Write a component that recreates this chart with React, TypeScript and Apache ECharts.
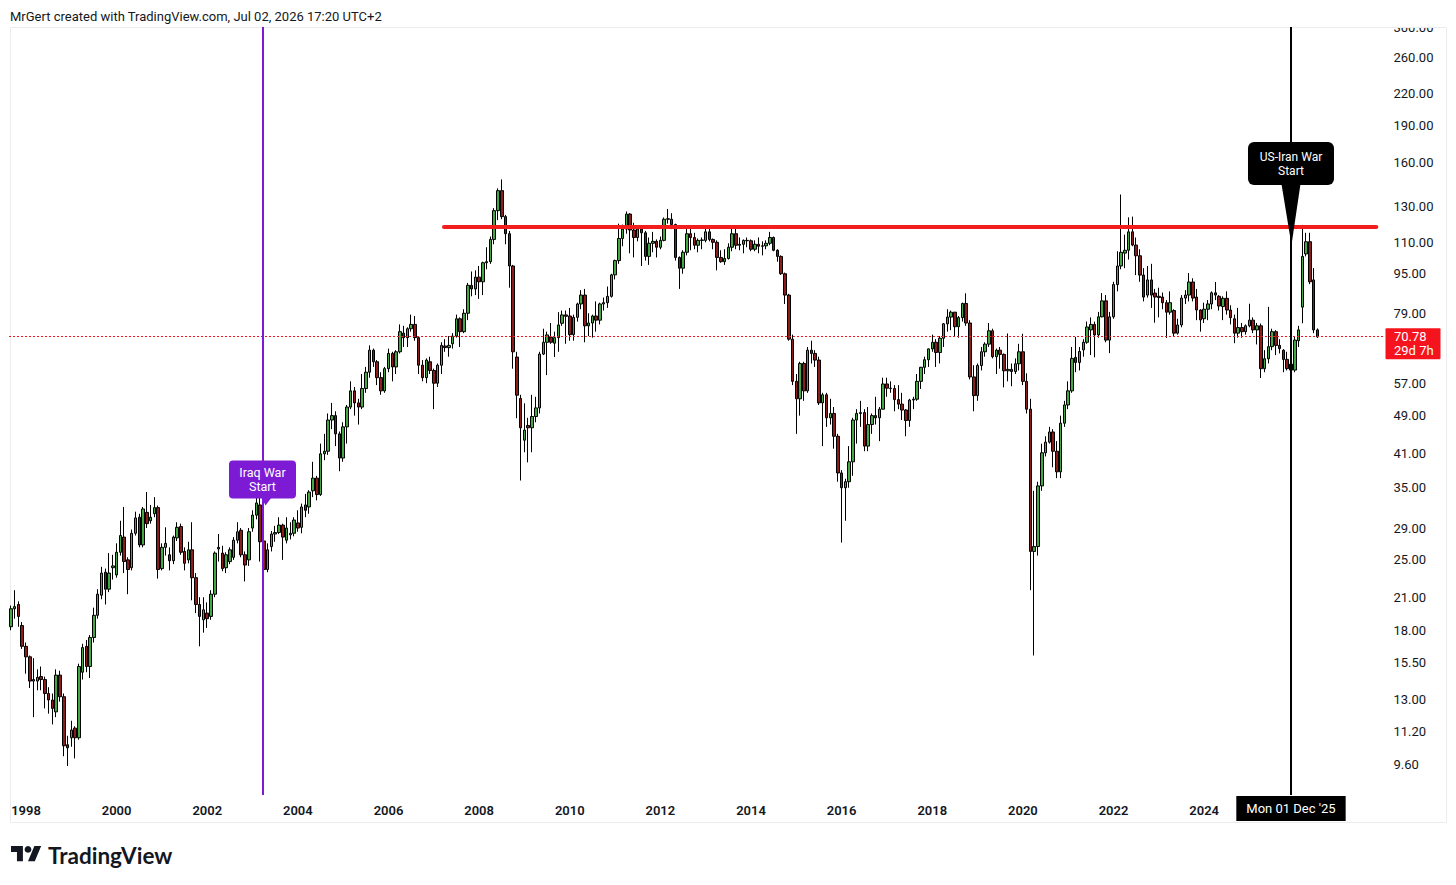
import React, { useEffect, useRef } from "react";
import * as echarts from "echarts";

// ---------- data ----------
const FIRST_YEAR = 1997;
const FIRST_MONTH = 9; // September 1997 is the first slot
const SLOT_COUNT = 364; // monthly slots on the time scale (incl. empty future space)

const priceTicks = [9.6, 11.2, 13, 15.5, 18, 21, 25, 29, 35, 41, 49, 57, 79, 95, 110, 130, 160, 190, 220, 260, 300];
const priceMin = 8.345;
const priceMax = 300.4;

const lastPrice = 70.78;
const lastPriceCountdown = "29d 7h";

const resistancePrice = 118.3;
const resistanceStartSlot = 114.7;
const resistanceEndSlot = 361.6;

const iraqWarSlot = 66.63; // 20 Mar 2003
const iranWarSlot = 339; // 01 Dec 2025
const iranWarLabel = "Mon 01 Dec '25";

const headerText = "MrGert created with TradingView.com, Jul 02, 2026 17:20 UTC+2";

// [open, close, low, high]
const ohlc1997 = [
  [18.3, 19.9, 18.0, 20.2], [19.9, 20.1, 19.0, 21.7], [20.3, 19.2, 18.3, 20.6], [18.4, 16.7, 16.5, 18.7],
];
const ohlc1998 = [
  [16.7, 15.9, 14.7, 17.0], [15.9, 14.2, 13.75, 16.0], [14.2, 14.3, 12.0, 15.8], [14.2, 14.45, 13.6, 15.0],
  [14.5, 14.3, 13.6, 15.2], [14.3, 13.4, 12.5, 14.5], [13.4, 13.0, 12.2, 13.8], [13.0, 12.5, 11.6, 13.4],
  [12.3, 14.6, 12.0, 15.0], [14.6, 13.2, 12.9, 14.9], [13.2, 10.5, 10.0, 13.4], [10.55, 10.4, 9.55, 11.0],
];
const ohlc1999 = [
  [10.9, 11.3, 10.45, 11.8], [11.4, 10.9, 9.9, 11.5], [10.9, 15.2, 10.8, 15.4], [14.8, 16.6, 14.3, 16.9],
  [16.7, 15.2, 14.8, 17.2], [15.2, 17.4, 14.4, 17.6], [17.4, 19.3, 17.0, 20.0], [19.3, 21.3, 19.0, 21.8],
  [21.2, 23.5, 20.8, 24.2], [23.6, 21.8, 20.3, 24.0], [21.8, 23.5, 21.5, 25.8], [24.1, 24.3, 22.8, 25.6],
];
const ohlc2000 = [
  [23.3, 25.9, 23.0, 27.0], [25.9, 28.0, 25.5, 30.0], [27.8, 24.8, 23.5, 32.0], [25.0, 23.9, 21.3, 25.3],
  [24.1, 28.3, 23.8, 28.8], [28.3, 30.4, 28.0, 31.3], [30.5, 26.8, 26.5, 31.0], [26.8, 31.7, 26.5, 32.0],
  [31.2, 29.6, 29.0, 34.3], [30.0, 30.5, 29.6, 32.3], [31.0, 31.9, 30.5, 33.5], [31.9, 23.9, 22.9, 32.2],
];
const ohlc2001 = [
  [24.0, 26.5, 23.8, 27.0], [26.5, 27.0, 25.5, 29.1], [25.6, 24.9, 23.8, 26.5], [24.9, 27.8, 24.5, 28.0],
  [27.7, 29.1, 27.3, 29.8], [29.2, 25.9, 25.6, 29.6], [26.0, 24.6, 23.8, 26.5], [25.0, 26.2, 24.6, 27.2],
  [26.2, 23.0, 20.7, 29.8], [23.0, 20.3, 19.5, 23.5], [20.3, 19.2, 16.7, 21.0], [18.9, 19.8, 17.8, 21.0],
];
const ohlc2002 = [
  [19.5, 19.0, 18.2, 20.5], [19.2, 21.3, 18.9, 21.7], [21.3, 25.8, 21.0, 26.0], [26.3, 26.5, 24.8, 28.2],
  [25.8, 24.0, 23.7, 26.7], [24.1, 25.6, 23.5, 25.9], [24.8, 26.2, 24.5, 26.5], [25.3, 27.4, 25.0, 27.8],
  [27.4, 28.5, 27.0, 29.8], [28.7, 25.6, 25.3, 29.0], [25.6, 24.4, 22.6, 26.0], [25.0, 28.5, 24.3, 29.0],
];
const ohlc2003 = [
  [29.0, 30.8, 28.5, 31.5], [30.8, 32.6, 30.2, 34.1], [32.3, 27.2, 24.8, 34.0], [27.3, 23.9, 23.3, 27.5],
  [23.9, 26.2, 23.6, 27.0], [26.6, 28.2, 26.0, 28.6], [28.2, 28.4, 27.2, 29.3], [28.4, 29.4, 28.2, 30.5],
  [29.4, 27.8, 25.0, 29.6], [27.4, 29.0, 27.0, 30.5], [28.1, 28.3, 27.5, 29.8], [28.3, 30.1, 27.9, 30.5],
];
const ohlc2004 = [
  [29.7, 29.0, 28.5, 31.5], [29.1, 32.0, 28.3, 32.5], [32.3, 31.5, 30.5, 34.0], [32.0, 34.3, 31.0, 34.6],
  [34.5, 36.6, 33.5, 39.5], [36.6, 33.9, 33.0, 37.0], [33.9, 41.0, 33.7, 43.0], [41.0, 41.5, 39.8, 45.0],
  [41.5, 48.0, 40.8, 49.5], [48.0, 49.0, 46.0, 52.0], [49.0, 45.0, 42.5, 50.0], [45.0, 40.2, 37.8, 45.5],
];
const ohlc2005 = [
  [40.2, 46.5, 39.5, 47.5], [46.5, 51.0, 43.0, 51.5], [51.0, 55.0, 50.5, 57.5], [55.0, 52.0, 49.0, 56.0],
  [52.0, 51.0, 47.0, 53.0], [51.0, 55.6, 50.5, 59.5], [55.6, 60.0, 54.5, 61.5], [60.0, 66.5, 58.5, 68.0],
  [66.5, 63.0, 61.5, 67.0], [63.0, 58.5, 56.5, 63.5], [58.5, 55.0, 54.0, 60.0], [55.0, 61.0, 54.5, 61.5],
];
const ohlc2006 = [
  [61.0, 65.5, 60.0, 67.0], [65.5, 61.5, 57.5, 66.0], [61.5, 66.0, 59.5, 66.5], [66.0, 72.5, 65.5, 75.0],
  [72.0, 70.5, 67.5, 74.5], [70.5, 73.5, 67.5, 74.0], [73.5, 75.0, 72.5, 78.5], [75.0, 70.5, 69.5, 78.0],
  [70.5, 62.0, 59.5, 71.0], [62.0, 58.5, 57.5, 63.5], [58.5, 63.5, 57.0, 64.0], [63.0, 60.5, 59.5, 64.5],
];
const ohlc2007 = [
  [60.5, 57.0, 50.5, 61.0], [57.0, 62.0, 56.0, 62.5], [62.0, 68.0, 59.5, 69.0], [67.8, 67.3, 66.0, 70.0],
  [67.3, 68.0, 64.5, 71.0], [68.5, 71.0, 67.0, 72.0], [71.0, 77.0, 70.5, 78.5], [77.0, 72.5, 67.5, 77.5],
  [72.5, 79.0, 72.0, 80.5], [79.0, 90.0, 76.5, 91.0], [90.0, 88.5, 85.5, 96.0], [88.5, 93.5, 86.0, 96.5],
];
const ohlc2008 = [
  [93.5, 91.5, 84.5, 98.5], [91.5, 100.0, 86.0, 100.5], [100.0, 100.5, 97.0, 107.5], [100.5, 111.5, 99.5, 113.0],
  [111.5, 127.5, 109.0, 129.0], [127.5, 140.0, 122.0, 141.5], [140.0, 124.0, 122.5, 147.5], [124.0, 114.5, 109.0, 125.0],
  [114.5, 98.5, 89.0, 116.0], [98.5, 66.0, 61.0, 99.0], [64.4, 53.9, 48.4, 66.0], [53.1, 46.3, 36.2, 54.0],
];
const ohlc2009 = [
  [43.7, 45.8, 41.3, 51.9], [46.8, 46.3, 39.4, 48.5], [46.3, 48.8, 41.3, 54.0], [48.8, 50.8, 47.5, 53.5],
  [50.8, 65.3, 49.5, 66.0], [65.3, 69.0, 65.0, 73.5], [69.0, 71.4, 59.2, 72.5], [70.7, 69.0, 68.5, 75.5],
  [68.7, 70.5, 64.4, 72.5], [70.5, 74.8, 66.0, 79.4], [75.4, 78.4, 74.5, 80.0], [78.4, 77.9, 68.5, 80.0],
];
const ohlc2010 = [
  [78.0, 71.5, 69.5, 81.0], [71.5, 77.5, 69.5, 78.5], [77.5, 82.5, 76.0, 83.0], [82.5, 86.0, 80.5, 88.0],
  [86.0, 74.5, 69.0, 88.5], [74.5, 75.5, 71.0, 79.0], [75.5, 78.0, 70.5, 78.5], [78.0, 76.5, 72.5, 83.5],
  [76.5, 82.5, 75.0, 83.0], [82.5, 83.0, 80.0, 85.0], [83.0, 85.5, 81.0, 89.5], [85.5, 94.5, 85.0, 95.0],
];
const ohlc2011 = [
  [94.5, 101.0, 92.5, 101.5], [101.0, 112.0, 99.5, 120.0], [112.0, 117.0, 108.0, 119.5], [117.0, 125.5, 114.5, 127.0],
  [125.5, 116.5, 104.5, 126.0], [116.5, 112.5, 102.5, 120.5], [112.5, 117.0, 110.5, 119.0], [117.0, 115.0, 98.5, 118.0],
  [115.0, 103.0, 101.0, 116.0], [103.0, 109.5, 99.0, 112.5], [109.5, 110.5, 105.0, 115.5], [110.5, 107.5, 102.5, 111.5],
];
const ohlc2012 = [
  [107.5, 111.0, 106.5, 113.0], [111.0, 122.5, 110.5, 123.5], [122.5, 122.8, 120.0, 128.5], [122.5, 119.5, 117.0, 126.0],
  [119.5, 102.5, 101.0, 120.0], [102.5, 97.5, 88.5, 103.0], [97.5, 105.0, 95.0, 106.0], [105.0, 114.5, 103.5, 117.0],
  [114.5, 112.5, 106.0, 117.5], [112.5, 108.5, 106.5, 115.0], [108.5, 111.0, 105.0, 112.0], [111.0, 111.2, 106.5, 112.5],
];
const ohlc2013 = [
  [111.0, 115.5, 110.0, 118.0], [115.5, 111.5, 110.5, 119.0], [111.5, 110.0, 106.5, 112.0], [110.0, 102.5, 96.5, 111.0],
  [102.5, 100.5, 100.0, 106.0], [100.5, 102.0, 99.0, 106.5], [102.0, 107.5, 101.5, 109.5], [107.5, 114.5, 105.5, 117.5],
  [114.5, 108.5, 106.5, 117.0], [108.5, 109.0, 106.0, 112.5], [109.0, 111.0, 104.5, 111.5], [111.0, 110.8, 107.5, 112.5],
];
const ohlc2014 = [
  [110.8, 106.5, 105.5, 111.5], [106.5, 109.0, 105.5, 111.0], [109.0, 108.0, 104.5, 112.5], [108.0, 108.2, 103.5, 110.5],
  [108.2, 109.5, 106.5, 111.0], [109.5, 112.5, 108.5, 115.5], [112.5, 106.0, 105.5, 113.0], [106.0, 103.0, 100.5, 106.5],
  [103.0, 95.0, 94.5, 103.5], [95.0, 86.0, 82.5, 95.5], [86.0, 70.0, 69.5, 86.5], [70.0, 57.5, 56.5, 71.5],
];
const ohlc2015 = [
  [57.5, 53.0, 45.0, 59.5], [53.0, 62.5, 49.0, 63.0], [62.5, 55.0, 52.5, 63.0], [55.0, 66.5, 54.5, 67.5],
  [66.5, 65.5, 62.5, 69.5], [65.5, 63.5, 61.5, 66.5], [63.5, 52.0, 51.5, 64.5], [52.0, 54.0, 42.5, 54.5],
  [54.0, 48.5, 46.5, 54.5], [48.5, 49.5, 47.0, 53.0], [49.5, 44.5, 42.0, 51.0], [44.5, 37.5, 36.0, 45.0],
];
const ohlc2016 = [
  [37.5, 35.0, 27.1, 38.0], [35.0, 36.0, 30.0, 36.5], [36.0, 39.5, 35.0, 42.5], [39.5, 48.0, 37.0, 48.5],
  [48.0, 49.5, 43.0, 50.5], [49.5, 49.7, 46.5, 52.5], [49.7, 42.5, 41.5, 50.5], [42.5, 47.0, 41.5, 51.0],
  [47.0, 49.0, 45.0, 49.5], [49.0, 48.5, 47.0, 53.5], [48.5, 50.5, 43.5, 51.0], [50.5, 56.8, 50.5, 58.5],
];
const ohlc2017 = [
  [56.8, 55.7, 53.5, 58.5], [55.7, 55.6, 54.5, 57.5], [55.6, 52.8, 50.0, 56.5], [52.8, 51.7, 50.5, 56.5],
  [51.7, 50.3, 48.0, 54.5], [50.3, 47.9, 44.5, 50.5], [47.9, 52.7, 46.5, 53.0], [52.7, 52.9, 50.5, 53.5],
  [52.9, 57.5, 52.5, 59.5], [57.5, 61.4, 55.5, 61.5], [61.4, 63.6, 59.5, 64.5], [63.6, 66.9, 61.5, 67.0],
];
const ohlc2018 = [
  [66.9, 69.0, 66.0, 71.5], [69.0, 65.8, 61.5, 70.0], [65.8, 70.3, 62.5, 71.0], [70.3, 75.2, 67.5, 75.5],
  [75.2, 77.6, 72.5, 80.5], [77.6, 79.4, 73.0, 80.0], [79.4, 74.2, 71.0, 79.5], [74.2, 77.4, 70.5, 78.0],
  [77.4, 82.7, 76.0, 83.0], [82.7, 75.5, 74.5, 86.7], [75.5, 58.7, 58.0, 76.5], [58.7, 53.8, 50.0, 62.0],
];
const ohlc2019 = [
  [53.8, 61.9, 52.5, 62.5], [61.9, 66.0, 60.5, 67.5], [66.0, 68.4, 64.5, 69.0], [68.4, 72.8, 67.5, 75.5],
  [72.8, 64.5, 64.0, 73.5], [64.5, 66.5, 59.5, 67.0], [66.5, 65.2, 61.0, 67.5], [65.2, 60.4, 55.9, 65.5],
  [60.4, 60.8, 57.5, 71.9], [60.8, 60.2, 56.2, 62.5], [60.2, 62.4, 59.5, 64.0], [62.4, 66.0, 60.5, 68.5],
];
const ohlc2020 = [
  [66.0, 57.5, 56.5, 71.8], [57.5, 50.5, 49.5, 59.7], [50.5, 26.0, 21.7, 53.0], [26.0, 26.6, 16.0, 34.5],
  [26.6, 35.3, 25.5, 36.0], [35.3, 41.2, 34.5, 43.0], [41.2, 43.3, 40.5, 44.5], [43.3, 45.4, 43.0, 46.5],
  [45.4, 41.5, 38.5, 46.0], [41.5, 37.7, 36.6, 43.5], [37.7, 47.3, 36.6, 49.0], [47.3, 51.5, 46.5, 52.5],
];
const ohlc2021 = [
  [51.5, 55.0, 50.5, 57.5], [55.0, 64.0, 54.5, 67.5], [64.3, 62.8, 60.0, 70.7], [62.8, 66.1, 60.5, 67.5],
  [66.6, 69.0, 64.5, 70.0], [69.0, 74.1, 68.5, 76.0], [73.1, 75.0, 65.0, 77.5], [75.0, 71.4, 64.3, 76.0],
  [71.4, 77.7, 70.5, 79.5], [77.7, 83.7, 77.5, 86.8], [83.7, 69.7, 69.0, 86.0], [69.7, 77.7, 65.6, 79.5],
];
const ohlc2022 = [
  [77.7, 90.3, 77.0, 91.5], [90.3, 98.5, 87.5, 105.5], [98.5, 105.0, 97.0, 137.5], [104.6, 106.0, 97.5, 114.0],
  [106.0, 115.5, 101.5, 123.6], [115.5, 108.6, 108.0, 124.0], [108.6, 103.3, 94.4, 112.5], [103.3, 94.4, 91.5, 106.5],
  [94.4, 85.2, 83.5, 97.5], [86.0, 92.3, 85.0, 98.5], [92.3, 86.0, 81.0, 99.5], [86.8, 85.2, 75.6, 88.5],
];
const ohlc2023 = [
  [85.5, 85.0, 77.5, 89.0], [85.2, 83.0, 80.5, 87.0], [83.0, 79.4, 70.4, 84.0], [79.4, 83.0, 78.5, 87.5],
  [80.0, 72.0, 71.0, 80.5], [72.0, 74.8, 71.5, 77.0], [74.8, 84.8, 74.0, 86.0], [84.8, 86.0, 82.5, 88.0],
  [86.0, 91.4, 83.5, 95.3], [91.4, 84.8, 83.5, 93.0], [85.2, 80.2, 76.5, 88.5], [80.2, 76.6, 72.5, 80.5],
];
const ohlc2024 = [
  [77.0, 80.5, 75.5, 83.0], [80.5, 82.5, 76.5, 84.0], [82.5, 86.9, 80.5, 87.5], [86.9, 86.0, 84.0, 91.4],
  [85.5, 81.7, 80.0, 86.0], [81.5, 84.7, 76.5, 85.5], [84.7, 80.2, 78.5, 87.5], [80.2, 77.4, 75.0, 82.0],
  [77.0, 72.0, 68.7, 78.5], [72.0, 73.9, 70.5, 81.0], [73.9, 72.5, 70.5, 75.5], [72.5, 74.5, 71.5, 75.0],
];
const ohlc2025 = [
  [74.5, 76.5, 74.0, 82.6], [76.5, 73.1, 72.0, 77.5], [73.1, 74.5, 68.3, 75.5], [74.5, 61.0, 58.4, 75.3],
  [61.0, 63.9, 60.0, 66.5], [63.9, 67.6, 62.5, 81.4], [67.6, 72.5, 66.5, 73.5], [72.5, 68.0, 65.0, 73.0],
  [68.0, 67.0, 65.5, 70.0], [66.5, 63.7, 60.0, 66.8], [63.7, 61.0, 60.5, 66.0], [62.3, 60.6, 58.5, 63.5],
];
const ohlc2026 = [
  [60.6, 69.7, 60.0, 71.0], [69.5, 73.1, 67.5, 74.5], [81.3, 103.0, 75.4, 119.3], [104.2, 110.3, 103.0, 115.0],
  [110.3, 91.5, 90.5, 115.0], [92.3, 73.1, 72.0, 97.5], [73.1, 70.78, 70.4, 73.6],
];

const candles = [
  ...ohlc1997, ...ohlc1998, ...ohlc1999, ...ohlc2000, ...ohlc2001, ...ohlc2002, ...ohlc2003,
  ...ohlc2004, ...ohlc2005, ...ohlc2006, ...ohlc2007, ...ohlc2008, ...ohlc2009, ...ohlc2010,
  ...ohlc2011, ...ohlc2012, ...ohlc2013, ...ohlc2014, ...ohlc2015, ...ohlc2016, ...ohlc2017,
  ...ohlc2018, ...ohlc2019, ...ohlc2020, ...ohlc2021, ...ohlc2022, ...ohlc2023, ...ohlc2024,
  ...ohlc2025, ...ohlc2026,
];

const months: string[] = Array.from({ length: SLOT_COUNT }, (_, i) => {
  const m0 = FIRST_MONTH - 1 + i;
  const y = FIRST_YEAR + Math.floor(m0 / 12);
  const m = (m0 % 12) + 1;
  return `${y}-${String(m).padStart(2, "0")}`;
});

const callouts = [
  { text: "Iraq War\nStart", slot: iraqWarSlot, price: 32.2, kind: "small" },
  { text: "US-Iran War\nStart", slot: iranWarSlot, price: 108.6, kind: "tall" },
];

// ---------- styles ----------
const FONT = "Roboto, 'Liberation Sans', Arial, sans-serif";
const TEXT = "#131722";
const UP = "#43a843";
const DOWN = "#8b1c1c";
const PURPLE = "#7d1ad4";
const RED = "#f21d1d";
const TAG_RED = "#f5141d";

const L = Math.log;

function buildOption() {
  return {
    animation: false,
    backgroundColor: "#ffffff",
    grid: { left: 9, top: 27, width: 1374.5, height: 768, containLabel: false, outerBoundsMode: "none" },
    xAxis: [
      {
        type: "category",
        data: months,
        boundaryGap: true,
        axisLine: { show: false },
        axisTick: { show: false },
        splitLine: { show: false },
        axisLabel: {
          interval: (_i: number, v: string) => {
            const y = Number(v.slice(0, 4));
            return v.endsWith("-01") && y % 2 === 0 && y <= 2024;
          },
          formatter: (v: string) => v.slice(0, 4),
          color: TEXT,
          fontSize: 13,
          fontWeight: 600,
          fontFamily: FONT,
          margin: 9,
        },
      },
      { type: "value", min: -0.5, max: SLOT_COUNT - 0.5, show: false },
    ],
    yAxis: {
      type: "value",
      position: "right",
      min: L(priceMin),
      max: L(priceMax),
      axisLine: { show: false },
      axisTick: { show: false },
      splitLine: { show: false },
      axisLabel: {
        customValues: priceTicks.map(L),
        formatter: (v: number) => Math.exp(v).toFixed(2),
        color: TEXT,
        fontSize: 13,
        fontFamily: FONT,
        margin: 10,
      },
    },
    series: [
      {
        type: "candlestick",
        xAxisIndex: 0,
        yAxisIndex: 0,
        barWidth: 3,
        data: candles.map((c) => c.map(L)),
        itemStyle: { color: UP, color0: DOWN, borderColor: "#000", borderColor0: "#000", borderWidth: 1 },
        markLine: {
          silent: true,
          symbol: ["none", "none"],
          data: [{ yAxis: L(lastPrice), lineStyle: { color: TAG_RED, width: 1, type: [2, 2] }, label: { show: false } }],
        },
      },
      {
        type: "line",
        xAxisIndex: 1,
        yAxisIndex: 0,
        data: [[0, L(20)]],
        symbol: "none",
        silent: true,
        lineStyle: { opacity: 0 },
        markLine: {
          silent: true,
          symbol: ["none", "none"],
          data: [
            { xAxis: iraqWarSlot, lineStyle: { color: PURPLE, width: 2, type: "solid" }, label: { show: false } },
            {
              xAxis: iranWarSlot,
              lineStyle: { color: "#000", width: 2, type: "solid" },
              label: {
                show: true,
                position: "start",
                distance: 1,
                formatter: iranWarLabel,
                backgroundColor: "#000",
                color: "#fff",
                fontSize: 13,
                fontFamily: FONT,
                padding: [6, 10, 6, 10],
              },
            },
            [
              { coord: [resistanceStartSlot, L(resistancePrice)], lineStyle: { color: RED, width: 4, type: "solid", cap: "round" }, label: { show: false } },
              { coord: [resistanceEndSlot, L(resistancePrice)], lineStyle: { color: RED, width: 4, type: "solid", cap: "round" }, label: { show: false } },
            ],
          ],
        },
      },
    ],
  };
}

const TV_LOGO_PATH = "M14 22H7V11H0V4h14v18zM28 22h-8l7.5-18h8L28 22z";
let logoRegistered = false;

export default function App() {
  const ref = useRef<HTMLDivElement>(null);
  useEffect(() => {
    if (!ref.current) return;
    if (!logoRegistered) {
      echarts.graphic.registerShape("tvlogo", echarts.graphic.extendPath(TV_LOGO_PATH, {}));
      logoRegistered = true;
    }
    const chart = echarts.init(ref.current, null, { renderer: "svg" });
    chart.setOption(buildOption());

    const finder = { seriesIndex: 1 };
    const px = (slot: number, price: number) => chart.convertToPixel(finder, [slot, L(price)]) as number[];
    const [gridRight, tagY] = px(SLOT_COUNT - 0.5, lastPrice);

    const elements: any[] = [
      { type: "rect", z: 1, silent: true, shape: { x: 10.5, y: 27.5, width: 1436, height: 795 }, style: { fill: "none", stroke: "#ececec", lineWidth: 1 } },
      { type: "rect", z: 50, silent: true, shape: { x: 1385, y: 0, width: 71, height: 27 }, style: { fill: "#fff" } },
      { type: "text", z: 60, x: 10, y: 16, style: { text: headerText, fill: TEXT, fontSize: 13, fontFamily: FONT, verticalAlign: "middle" } },
      { type: "tvlogo", z: 60, x: 11, y: 842.6, scaleX: 0.85, scaleY: 0.85, style: { fill: TEXT } },
      { type: "circle", z: 60, shape: { cx: 28, cy: 849.4, r: 3.4 }, style: { fill: TEXT } },
      { type: "text", z: 60, x: 48, y: 855, style: { text: "TradingView", fill: TEXT, fontSize: 22.5, fontWeight: "bold", fontFamily: "Lato, Roboto, sans-serif", verticalAlign: "middle" } },
      // last price tag
      { type: "rect", z: 60, shape: { x: gridRight + 2, y: tagY - 8.5, width: 55, height: 31, r: 1 }, style: { fill: TAG_RED } },
      { type: "text", z: 61, x: gridRight + 10.5, y: tagY, style: { text: lastPrice.toFixed(2), fill: "#fff", fontSize: 13, fontFamily: FONT, verticalAlign: "middle" } },
      { type: "text", z: 61, x: gridRight + 10.5, y: tagY + 14, style: { text: lastPriceCountdown, fill: "#fff", fontSize: 13, fontFamily: FONT, verticalAlign: "middle" } },
    ];

    callouts.forEach((c) => {
      const [ax, ay] = px(c.slot, c.price);
      if (c.kind === "small") {
        const w = 67, h = 38, gap = 7;
        const bottom = ay - gap, top = bottom - h;
        elements.push(
          { type: "rect", z: 70, shape: { x: ax - w / 2, y: top, width: w, height: h, r: 4 }, style: { fill: PURPLE } },
          { type: "polygon", z: 70, shape: { points: [[ax - 1, bottom - 1], [ax + 9, bottom - 1], [ax + 3, ay]] }, style: { fill: PURPLE } },
          { type: "text", z: 71, x: ax, y: top + h / 2, style: { text: c.text, fill: "#fff", fontSize: 12.5, lineHeight: 14, fontFamily: FONT, align: "center", verticalAlign: "middle" } },
        );
      } else {
        const w = 86, h = 43, gap = 60;
        const bottom = ay - gap, top = bottom - h;
        elements.push(
          { type: "rect", z: 70, shape: { x: ax - w / 2, y: top, width: w, height: h, r: 6 }, style: { fill: "#000" } },
          { type: "polygon", z: 70, shape: { points: [[ax - 9.5, bottom - 1], [ax + 9.5, bottom - 1], [ax + 0.5, ay]] }, style: { fill: "#000" } },
          { type: "text", z: 71, x: ax, y: top + h / 2, style: { text: c.text, fill: "#fff", fontSize: 12, lineHeight: 14, fontFamily: FONT, align: "center", verticalAlign: "middle" } },
        );
      }
    });

    chart.setOption({ graphic: elements });
    return () => chart.dispose();
  }, []);

  return <div ref={ref} style={{ position: "absolute", left: 0, top: 0, width: 1456, height: 885, background: "#fff" }} />;
}
